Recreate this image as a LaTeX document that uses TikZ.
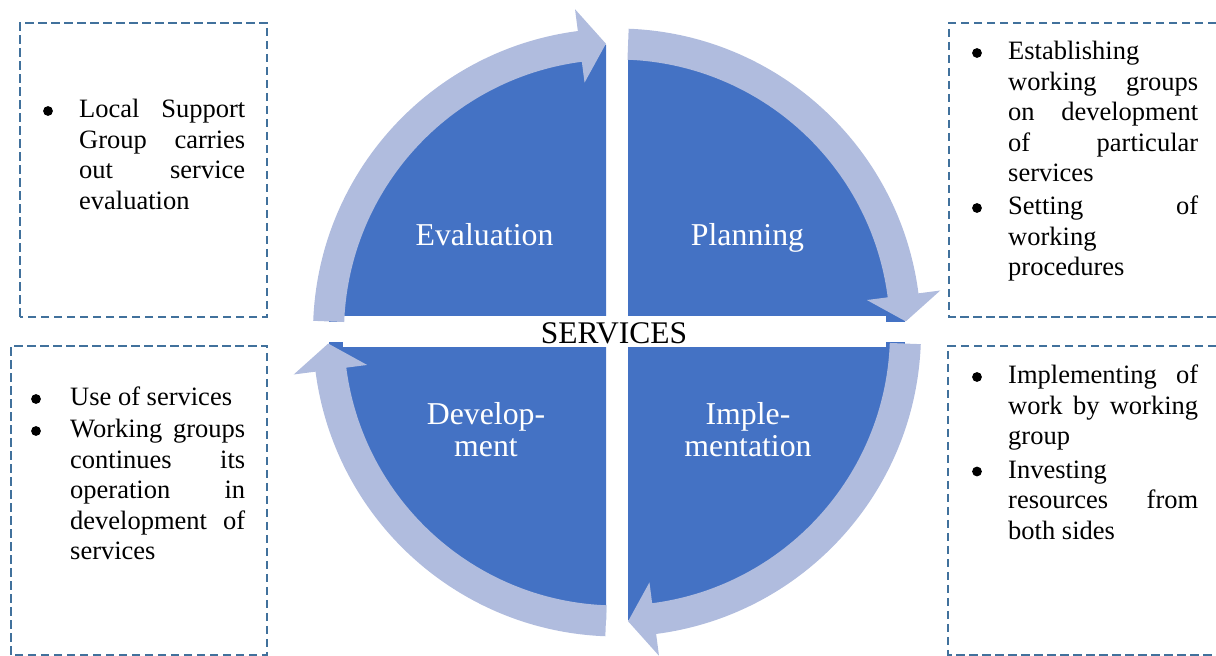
\documentclass[tikz,border=0pt]{standalone}
\usepackage{fontspec}
\setmainfont{Liberation Serif}
\definecolor{qblue}{RGB}{68,114,196}
\definecolor{band}{RGB}{176,188,222}
\definecolor{boxc}{RGB}{65,113,156}
\newcommand\ctr[1]{\hbox to 0pt{\hss#1\hss}}
\newcommand\jl[2]{\hbox to #1{#2}}
\newcommand\ringarrow[3]{%
  \fill[ring] (#1:304pt) arc[start angle=#1, end angle=#3, radius=304pt]
    -- (#3:326pt) -- (#2:289pt) -- (#3:252pt) -- (#3:273pt)
    arc[start angle=#3, end angle=#1, radius=273pt] -- cycle;}
\tikzset{
  quad/.style={fill=qblue},
  ring/.style={fill=band},
  dbox/.style={draw=boxc, line width=2.6pt, dash pattern=on 8.5pt off 4.5pt},
  body/.style={inner sep=0pt, anchor=base west, font=\fontsize{26.5}{30.5}\selectfont},
  qlabel/.style={inner sep=0pt, anchor=base, text=white, font=\fontsize{31.8}{32}\selectfont},
  bullet/.style={circle, fill=black, inner sep=0pt, minimum size=9.8pt},
}
\begin{document}
\begin{tikzpicture}[x=1pt,y=1pt]
\useasboundingbox (0,0) rectangle (1216,656);
% quadrants
\begin{scope}\clip (628,334) rectangle (1216,656); \fill[quad] (617,323.5) circle[radius=288pt];\end{scope}
\begin{scope}\clip (0,334) rectangle (606,656); \fill[quad] (617,323.5) circle[radius=288pt];\end{scope}
\begin{scope}\clip (0,0) rectangle (606,313); \fill[quad] (617,323.5) circle[radius=288pt];\end{scope}
\begin{scope}\clip (628,0) rectangle (1216,313); \fill[quad] (617,323.5) circle[radius=288pt];\end{scope}
\fill[white] (343,309) rectangle (886,340);
% ring arrows
\begin{scope}[shift={(617,323.5)}]
  \ringarrow{177.8}{92.2}{97.4}
  \ringarrow{87.8}{2.2}{7.4}
  \ringarrow{-2.2}{-87.8}{-82.6}
  \ringarrow{-92.2}{-177.8}{-172.6}
\end{scope}
% labels
\node[inner sep=0pt, anchor=base, font=\fontsize{31.5}{32}\selectfont] (svc) at (614,312) {SERVICES};
\node[qlabel] (eval) at (484.5,410) {\ctr{Evaluation}};
\node[qlabel] (plan) at (747.5,410) {\ctr{Planning}};
\node[qlabel] (dev) at (486,231) {\vtop{\ctr{Develop-}\ctr{ment}}};
\node[qlabel] (impl) at (748,231) {\vtop{\ctr{Imple-}\ctr{mentation}}};
% dashed boxes
\draw[dbox] (20,339) rectangle (267,633);
\draw[dbox] (1216,633) -- (949,633) -- (949,339) -- (1216,339);
\draw[dbox] (1216,310) -- (948,310) -- (948,1) -- (1216,1);
\draw[dbox] (11,1) rectangle (267,310);
% bullets
\node[bullet] (btl) at (48,545) {};
\node[bullet] (btr1) at (977,603) {};
\node[bullet] (btr2) at (977,448) {};
\node[bullet] (bbr1) at (977,279) {};
\node[bullet] (bbr2) at (977,184.5) {};
\node[bullet] (bbl1) at (36,257) {};
\node[bullet] (bbl2) at (36,225) {};
% box texts
\node[body] (tltext) at (79,538) {\vtop{%
  \jl{166pt}{Local\hfill Support}%
  \jl{166pt}{Group\hfill carries}%
  \jl{166pt}{out\hfill service}%
  \jl{166pt}{evaluation\hfil}}};
\node[body] (trtext) at (1008,596) {\vtop{%
  \jl{190pt}{Establishing\hfil}%
  \jl{190pt}{working\hfill groups}%
  \jl{190pt}{on\hfill development}%
  \jl{190pt}{of\hfill particular}%
  \jl{190pt}{services\hfil}%
  \vskip 2.5pt
  \jl{190pt}{Setting\hfill of}%
  \jl{190pt}{working\hfil}%
  \jl{190pt}{procedures\hfil}}};
\node[body] (brtext) at (1008,272) {\vtop{%
  \jl{190pt}{Implementing\hfill of}%
  \jl{190pt}{work\hfill by\hfill working}%
  \jl{190pt}{group\hfil}%
  \vskip 3pt
  \jl{190pt}{Investing\hfil}%
  \jl{190pt}{resources\hfill from}%
  \jl{190pt}{both sides\hfil}}};
\node[body] (bltext) at (70,250) {\vtop{%
  \jl{175pt}{Use of services\hfil}%
  \vskip 1.5pt
  \jl{175pt}{Working\hfill groups}%
  \jl{175pt}{continues\hfill its}%
  \jl{175pt}{operation\hfill in}%
  \jl{175pt}{development\hfill of}%
  \jl{175pt}{services\hfil}}};
\end{tikzpicture}
\end{document}
